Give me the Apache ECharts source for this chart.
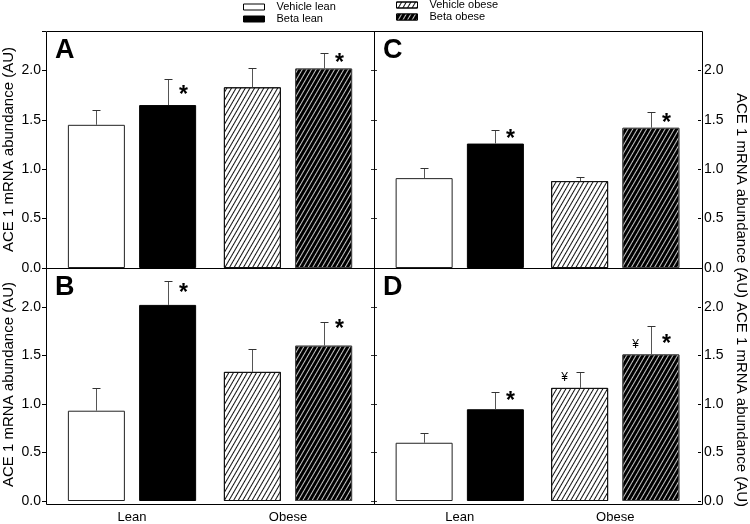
<!DOCTYPE html>
<html><head><meta charset="utf-8">
<script src="https://cdn.jsdelivr.net/npm/echarts@6/dist/echarts.min.js"></script>
<style>html,body{margin:0;padding:0;background:#fff}#c{width:750px;height:524px}</style>
</head><body><div id="c"></div>
<script>
// ---------------- data ----------------
const categories = ['Lean', 'Obese'];
const seriesNames = ['Vehicle lean', 'Beta lean', 'Vehicle obese', 'Beta obese'];
const yAxisTitle = 'ACE 1 mRNA abundance (AU)';

// Panel A
const A_vehicle = [1.45, 1.83];
const A_vehicleErr = [0.155, 0.20];
const A_beta = [1.65, 2.02];
const A_betaErr = [0.26, 0.16];
const A_betaStar = ['*', '*'];
const A_betaStarY = [1.80, 2.12];

// Panel B
const B_vehicle = [0.93, 1.33];
const B_vehicleErr = [0.235, 0.24];
const B_beta = [2.02, 1.60];
const B_betaErr = [0.245, 0.24];
const B_betaStar = ['*', '*'];
const B_betaStarY = [2.185, 1.82];

// Panel C
const C_vehicle = [0.91, 0.88];
const C_vehicleErr = [0.105, 0.045];
const C_beta = [1.26, 1.42];
const C_betaErr = [0.14, 0.16];
const C_betaStar = ['*', '*'];
const C_betaStarY = [1.355, 1.51];

// Panel D
const D_vehicle = [0.60, 1.165];
const D_vehicleErr = [0.10, 0.165];
const D_beta = [0.945, 1.51];
const D_betaErr = [0.175, 0.295];
const D_betaStar = ['*', '*'];
const D_betaStarY = [1.07, 1.657];
const D_vehicleYen = ['', '¥'];
const D_vehicleYenY = [0, 1.27];
const D_betaYen = ['', '¥'];
const D_betaYenY = [0, 1.613];

// ---------------- layout / style ----------------
const FONT = 'Liberation Sans, Arial, sans-serif';
const BAR_W = 57, BAR_GAP_PX = 14.25;
const SLOT = (BAR_W + BAR_GAP_PX) / 2;
const INSET = 8;

const panels = [
  { letter: 'A', frame: [46, 31, 328, 237], side: 'left', bottom: false,
    veh: A_vehicle, vehErr: A_vehicleErr, beta: A_beta, betaErr: A_betaErr,
    star: A_betaStar, starY: A_betaStarY, namePad: 0 },
  { letter: 'C', frame: [374, 31, 328, 237], side: 'right', bottom: false,
    veh: C_vehicle, vehErr: C_vehicleErr, beta: C_beta, betaErr: C_betaErr,
    star: C_betaStar, starY: C_betaStarY, namePad: 92 },
  { letter: 'B', frame: [46, 268, 328, 236], side: 'left', bottom: true,
    veh: B_vehicle, vehErr: B_vehicleErr, beta: B_beta, betaErr: B_betaErr,
    star: B_betaStar, starY: B_betaStarY, namePad: 0 },
  { letter: 'D', frame: [374, 268, 328, 236], side: 'right', bottom: true,
    veh: D_vehicle, vehErr: D_vehicleErr, beta: D_beta, betaErr: D_betaErr,
    star: D_betaStar, starY: D_betaStarY, namePad: 40,
    vehYen: D_vehicleYen, vehYenY: D_vehicleYenY, betaYen: D_betaYen, betaYenY: D_betaYenY }
];

const hatchLight = { symbol: 'rect', symbolSize: 1, dashArrayX: [1, 0], dashArrayY: [1, 2.2], rotation: -Math.PI / 3, color: '#111' };
const hatchDark = { symbol: 'rect', symbolSize: 1, dashArrayX: [1, 0], dashArrayY: [1, 2.2], rotation: -Math.PI / 3, color: '#c8c8c8' };

const styles = {
  'Vehicle lean': { color: '#fff', borderColor: '#222', borderWidth: 1 },
  'Beta lean': { color: '#000', borderColor: '#000', borderWidth: 1 },
  'Vehicle obese': { color: '#fff', borderColor: '#111', borderWidth: 1, decal: hatchLight },
  'Beta obese': { color: '#000', borderColor: '#444', borderWidth: 1, decal: hatchDark }
};

const grid = [], xAxis = [], yAxis = [], series = [], graphic = [];

panels.forEach((p, i) => {
  const [fx, fy, fw, fh] = p.frame;
  const isLeft = p.side === 'left';
  grid.push({ left: fx + INSET, top: fy, width: fw - 2 * INSET, height: fh, containLabel: false });
  xAxis.push({
    gridIndex: i, type: 'category', data: categories,
    axisLine: { show: false }, axisTick: { show: false }, splitLine: { show: false },
    axisLabel: { show: p.bottom, color: '#000', fontSize: 13, fontFamily: FONT, margin: 10 }
  });
  yAxis.push({
    gridIndex: i, type: 'value', min: 0, max: 2.4, interval: 0.5,
    position: p.side, offset: INSET,
    axisLine: { show: false }, splitLine: { show: false },
    axisTick: { show: true, inside: !isLeft, length: isLeft ? 4 : 3, lineStyle: { color: '#000', width: 1 } },
    axisLabel: {
      color: '#000', fontSize: 14, fontFamily: FONT, margin: isLeft ? 5 : 3,
      formatter: v => (v > 2.01 ? '' : v.toFixed(1))
    },
    name: yAxisTitle, nameLocation: 'middle', nameGap: isLeft ? 30 : 33,
    nameRotate: isLeft ? 90 : -90,
    nameTextStyle: { color: '#000', fontSize: 15, fontFamily: FONT, padding: [0, 0, 0, p.namePad] }
  });
  yAxis.push({
    gridIndex: i, type: 'value', min: 0, max: 2.4, interval: 0.5,
    position: isLeft ? 'right' : 'left', offset: INSET,
    axisLine: { show: false }, splitLine: { show: false }, axisLabel: { show: false },
    axisTick: { show: true, inside: false, length: 3, lineStyle: { color: '#333', width: 1 } }
  });
  const yi = 2 * i;
  const mk = (name, stack, data) => ({
    name, type: 'bar', xAxisIndex: i, yAxisIndex: yi, stack: stack + i,
    barWidth: BAR_W, barGap: '25%', data, itemStyle: styles[name],
    emphasis: { disabled: true }, z: 2
  });
  series.push(mk('Vehicle lean', 'veh', [p.veh[0], '-']));
  series.push(mk('Vehicle obese', 'veh', ['-', p.veh[1]]));
  series.push(mk('Beta lean', 'beta', [p.beta[0], '-']));
  series.push(mk('Beta obese', 'beta', ['-', p.beta[1]]));

  // error bars + significance marks
  const items = [];
  for (let c = 0; c < 2; c++) {
    items.push({ v: [c, p.veh[c], p.vehErr[c], -1],
      left: p.vehYen ? p.vehYen[c] : '', leftY: p.vehYenY ? p.vehYenY[c] : 0,
      right: '', rightY: 0 });
    items.push({ v: [c, p.beta[c], p.betaErr[c], 1],
      left: p.betaYen ? p.betaYen[c] : '', leftY: p.betaYenY ? p.betaYenY[c] : 0,
      right: p.star[c], rightY: p.starY[c] });
  }
  series.push({
    type: 'custom', xAxisIndex: i, yAxisIndex: yi, z: 5, silent: true,
    data: items.map(it => it.v),
    renderItem: (params, api) => {
      const it = items[params.dataIndex];
      const cat = api.value(0), val = api.value(1), err = api.value(2), slot = api.value(3);
      const b = api.coord([cat, val]);
      const t = api.coord([cat, val + err]);
      const x = Math.round(b[0] + slot * SLOT) + 0.5;
      const ty = Math.round(t[1]) + 0.5;
      const ch = [
        { type: 'line', shape: { x1: x, y1: b[1], x2: x, y2: ty }, style: { stroke: '#555', lineWidth: 1 } },
        { type: 'line', shape: { x1: x - 4, y1: ty, x2: x + 4, y2: ty }, style: { stroke: '#333', lineWidth: 1 } }
      ];
      if (it.right) {
        const sy = api.coord([cat, it.rightY])[1];
        ch.push({ type: 'text', style: { text: it.right, x: x + 15, y: sy + 5, align: 'center', verticalAlign: 'middle',
          font: 'bold 23px ' + FONT, fill: '#000' } });
      }
      if (it.left) {
        const sy = api.coord([cat, it.leftY])[1];
        ch.push({ type: 'text', style: { text: it.left, x: x - 16, y: sy, align: 'center', verticalAlign: 'middle',
          font: '12px ' + FONT, fill: '#000' } });
      }
      return { type: 'group', children: ch };
    }
  });

  // frame
  graphic.push({ type: 'rect', shape: { x: fx + 0.5, y: fy + 0.5, width: fw, height: fh },
    style: { fill: null, stroke: '#000', lineWidth: 1 }, z: 10, silent: true });
  // panel letter
  graphic.push({ type: 'text', left: fx + 9, top: fy + 6,
    style: { text: p.letter, font: 'bold 27px ' + FONT, fill: '#000' }, z: 10 });
});

const legendCommon = {
  orient: 'vertical', itemWidth: 21, itemHeight: 6, padding: 0, icon: 'rect',
  selectedMode: false,
  textStyle: { color: '#000', fontSize: 11, fontStyle: 'normal', fontWeight: 'normal', fontFamily: FONT, padding: [0, 0, 0, 7], lineHeight: 12 },
  itemStyle: { borderColor: '#000', borderWidth: 1 }
};

const option = {
  animation: false,
  backgroundColor: '#fff',
  grid, xAxis, yAxis, series, graphic,
  legend: [
    Object.assign({}, legendCommon, { left: 243, top: 1, itemGap: 0, data: ['Vehicle lean', 'Beta lean'] }),
    Object.assign({}, legendCommon, { left: 396, top: -1, itemGap: 0, data: ['Vehicle obese', 'Beta obese'] })
  ]
};

const chart = echarts.init(document.getElementById('c'), null, { renderer: 'canvas' });
chart.setOption(option);
</script>
</body></html>
